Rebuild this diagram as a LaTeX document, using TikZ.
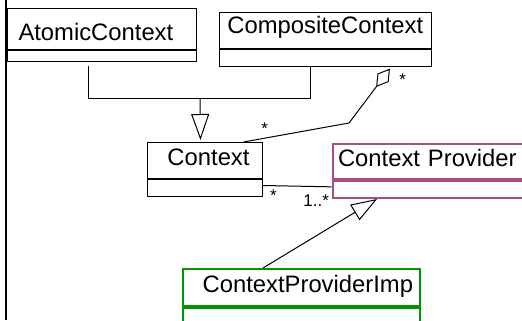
\documentclass[tikz,border=0pt]{standalone}
\usepackage{fontspec}
\setmainfont{Liberation Sans}
\usetikzlibrary{arrows.meta,positioning}
\definecolor{provmag}{RGB}{176,74,130}
\definecolor{impgreen}{RGB}{0,150,0}

\begin{document}
\begin{tikzpicture}[x=0.5pt, y=-0.5pt,
 cls/.style={draw, line width=.5pt, anchor=north west, inner ysep=0pt,
 text height=.75em, text depth=.25em, font=\fontsize{11.9}{14}\selectfont},
 attr/.style={draw, line width=.5pt, inner sep=0pt},
 mult/.style={font=\fontsize{8.5}{10}\selectfont, inner sep=0pt},
 gen/.style={-{Triangle[open,length=13pt,width=9pt]}, line width=.5pt},
 agg/.style={-{Diamond[open,length=11.5pt,width=7pt]}, line width=.5pt}]
\useasboundingbox (0,0) rectangle (522,320);
\draw[line width=1pt] (6,0) -- (6,320);
\node[cls, inner xsep=5.5pt, text width=83.5pt, align=left, text height=1.15em, text depth=0pt, minimum height=20.5pt] (atomicT) at (7,8) {AtomicContext};
\node[attr, below=0pt of atomicT, minimum width=94.5pt, minimum height=5.5pt] (atomicB) {};
\node[cls, inner xsep=2pt, text width=101.85pt, align=center, text depth=.45em, minimum height=18pt] (compT) at (219,12) {CompositeContext};
\node[attr, below=0pt of compT, minimum width=105.85pt, minimum height=8.5pt] (compB) {};
\node[cls, inner xsep=6.5pt, text width=44.65pt, align=right, minimum height=18pt] (ctxT) at (146.7,142) {Context};
\node[attr, below=0pt of ctxT, minimum width=57.65pt, minimum height=8.5pt] (ctxB) {};
\node[cls, draw=provmag, line width=1pt, inner xsep=2.65pt, text width=109.7pt, align=left, minimum height=17.5pt] (cpT) at (331.7,142.7) {Context Provider};
\node[attr, draw=provmag, line width=1pt, below=0pt of cpT, minimum width=115pt, minimum height=8.65pt] (cpB) {};
\node[cls, draw=impgreen, line width=1pt, inner xsep=3.5pt, text width=111.5pt, align=right, minimum height=18.5pt] (cpiT) at (182,268) {ContextProviderImp};
\node[attr, draw=impgreen, line width=1pt, below=0pt of cpiT, minimum width=118.5pt, minimum height=20pt] (cpiB) {};
\coordinate (join) at (200,99);
\coordinate (bend) at (349,123);
\draw[line width=.5pt] ([xshift=-6.75pt,yshift=-2pt]atomicB.south) |- (join);
\draw[line width=.5pt] ([xshift=-7.4pt]compB.south) |- (join);
\draw[gen] (join) -- ([xshift=-2.2pt,yshift=1pt]ctxT.north);
\draw[agg] ([xshift=19.3pt]ctxT.north) -- node[mult, pos=.2, above=1.7pt]{*} (bend) -- node[mult, pos=.8, right=8.5pt]{*} ([xshift=32.3pt,yshift=-.8pt]compB.south);
\draw[line width=.5pt] ([yshift=1.25pt]ctxB.east) -- node[mult, pos=.15, below=2pt]{*} node[mult, pos=.775, below=3.85pt]{1..*} ([yshift=1.25pt]cpB.west);
\draw[gen] ([xshift=-19.25pt]cpiT.north) -- ([xshift=-35.35pt]cpB.south);
\end{tikzpicture}
\end{document}
